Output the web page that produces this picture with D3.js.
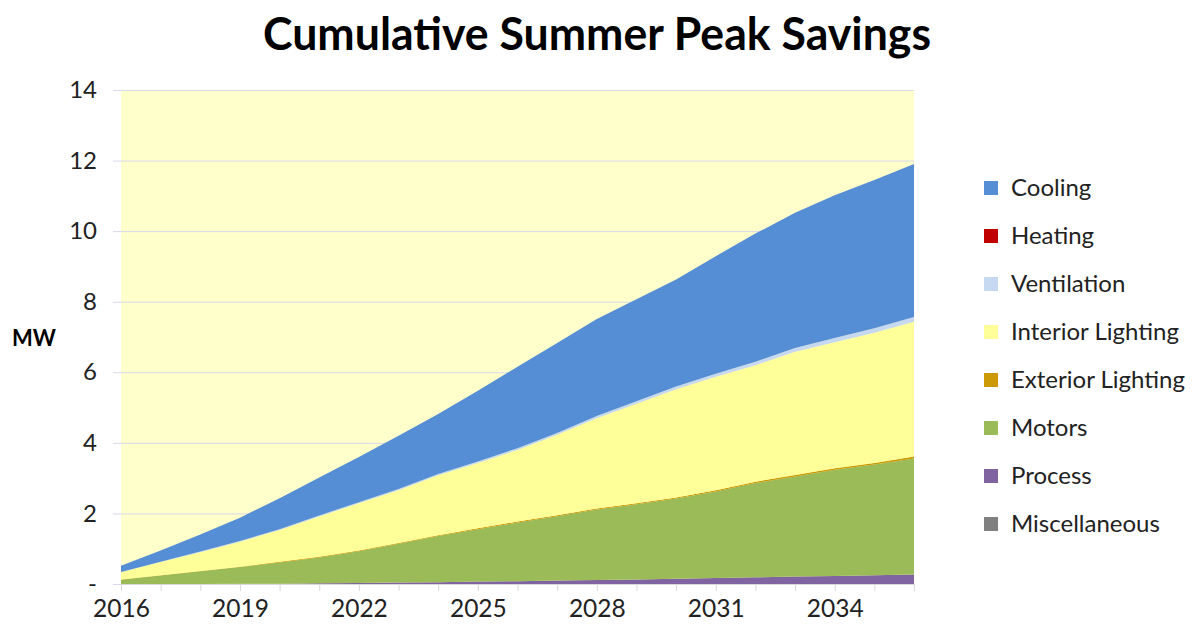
<!DOCTYPE html>
<html>
<head>
<meta charset="utf-8">
<script src="https://cdn.jsdelivr.net/npm/d3@7"></script>
<style>
  body { margin: 0; background: #fff; }
  text { font-family: Lato, "Open Sans", sans-serif; fill: #222; }
</style>
</head>
<body>
<svg id="chart"></svg>
<script>
const years = d3.range(2016, 2037);
const tickYears = [2016, 2019, 2022, 2025, 2028, 2031, 2034];
const yTicks = [0, 2, 4, 6, 8, 10, 12, 14];

// categories, bottom of the stack first
const categories = ['Miscellaneous', 'Process', 'Motors', 'Exterior Lighting',
  'Interior Lighting', 'Ventilation', 'Heating', 'Cooling'];
const legendOrder = ['Cooling', 'Heating', 'Ventilation', 'Interior Lighting',
  'Exterior Lighting', 'Motors', 'Process', 'Miscellaneous'];
const colors = ['#808080', '#8064a2', '#9bbb59', '#cc9a06',
  '#ffff99', '#c6d9f1', '#c00000', '#558ed5'];

// MW per year, 2016..2036
const miscellaneous = [0, 0, 0, 0, 0, 0, 0, 0, 0, 0, 0, 0, 0, 0, 0, 0, 0, 0, 0, 0, 0];
const processLoad = [0, 0, 0, 0.01, 0.01, 0.02, 0.03, 0.04, 0.05, 0.07, 0.08, 0.10, 0.11, 0.13, 0.15, 0.17, 0.19, 0.21, 0.23, 0.25, 0.27];
const motors = [0.12, 0.24, 0.36, 0.47, 0.60, 0.73, 0.90, 1.10, 1.31, 1.48, 1.66, 1.82, 2.00, 2.13, 2.27, 2.45, 2.67, 2.84, 3.01, 3.14, 3.29];
const exteriorLighting = [0.01, 0.01, 0.01, 0.01, 0.02, 0.02, 0.02, 0.02, 0.02, 0.03, 0.03, 0.03, 0.03, 0.03, 0.03, 0.04, 0.04, 0.04, 0.04, 0.04, 0.05];
const interiorLighting = [0.20, 0.37, 0.53, 0.71, 0.90, 1.14, 1.34, 1.50, 1.70, 1.85, 2.03, 2.28, 2.56, 2.82, 3.07, 3.21, 3.30, 3.49, 3.57, 3.69, 3.82];
const ventilation = [0.01, 0.01, 0.02, 0.02, 0.02, 0.03, 0.03, 0.03, 0.04, 0.04, 0.05, 0.05, 0.06, 0.07, 0.08, 0.09, 0.10, 0.11, 0.12, 0.13, 0.14];
const heating = [0, 0, 0, 0, 0, 0, 0, 0, 0, 0, 0, 0, 0, 0, 0, 0, 0, 0, 0, 0, 0];
const cooling = [0.18, 0.32, 0.48, 0.66, 0.88, 1.08, 1.28, 1.51, 1.70, 2.01, 2.31, 2.55, 2.75, 2.89, 3.03, 3.33, 3.63, 3.83, 4.05, 4.20, 4.33];

const seriesValues = [miscellaneous, processLoad, motors, exteriorLighting,
  interiorLighting, ventilation, heating, cooling];

class SavingsChart {

  constructor(_config, _data) {
    this.config = {
      parentElement: _config.parentElement,
      containerWidth: _config.containerWidth || 1196,
      containerHeight: _config.containerHeight || 634,
      plot: { left: 121, right: 914, top: 90, bottom: 584 }
    };
    this.data = _data;
    this.initVis();
  }

  initVis() {
    let vis = this;
    const p = vis.config.plot;

    vis.svg = d3.select(vis.config.parentElement)
        .attr('width', vis.config.containerWidth)
        .attr('height', vis.config.containerHeight);

    vis.xScale = d3.scalePoint()
        .domain(years)
        .range([p.left, p.right]);

    vis.yScale = d3.scaleLinear()
        .domain([0, 14])
        .range([p.bottom, p.top]);

    vis.colorScale = d3.scaleOrdinal()
        .domain(categories)
        .range(colors);

    vis.stack = d3.stack().keys(categories);

    vis.area = d3.area()
        .x(d => vis.xScale(d.data.year))
        .y0(d => vis.yScale(d[0]))
        .y1(d => vis.yScale(d[1]));

    vis.svg.append('text')
        .attr('x', 597)
        .attr('y', 50)
        .attr('text-anchor', 'middle')
        .attr('font-size', '46px')
        .attr('font-weight', 'bold')
        .attr('textLength', 668)
        .attr('lengthAdjust', 'spacingAndGlyphs')
        .style('fill', '#000')
        .text('Cumulative Summer Peak Savings');

    vis.svg.append('rect')
        .attr('x', p.left)
        .attr('y', p.top)
        .attr('width', p.right - p.left)
        .attr('height', p.bottom - p.top)
        .attr('fill', '#ffffcc');

    vis.yAxisG = vis.svg.append('g')
        .attr('class', 'axis y-axis')
        .attr('transform', `translate(${p.left},0)`);

    vis.marks = vis.svg.append('g');

    vis.xAxisG = vis.svg.append('g')
        .attr('class', 'axis x-axis')
        .attr('transform', `translate(0,${p.bottom})`);

    vis.svg.append('text')
        .attr('x', 34)
        .attr('y', 346)
        .attr('text-anchor', 'middle')
        .attr('font-size', '22px')
        .attr('font-weight', 'bold')
        .style('fill', '#000')
        .text('MW');

    vis.legend = vis.svg.append('g')
        .attr('transform', 'translate(984,188)');

    vis.renderVis();
  }

  renderVis() {
    let vis = this;
    const p = vis.config.plot;

    vis.marks.selectAll('.layer')
        .data(vis.stack(vis.data))
        .join('path')
        .attr('class', 'layer')
        .attr('fill', d => vis.colorScale(d.key))
        .attr('d', vis.area);

    const yAxis = d3.axisLeft(vis.yScale)
        .tickValues(yTicks)
        .tickPadding(16)
        .tickFormat(d => d === 0 ? '-' : d);

    vis.yAxisG.call(yAxis);
    vis.yAxisG.select('.domain').remove();
    // gridlines run across the plot and stick out a little as ticks
    vis.yAxisG.selectAll('.tick line')
        .attr('x1', p.right - p.left)
        .attr('x2', -8)
        .attr('stroke', '#d8d8ec');
    vis.yAxisG.selectAll('.tick text')
        .attr('x', -24)
        .attr('font-size', '24px')
        .style('fill', '#222');

    const xAxis = d3.axisBottom(vis.xScale)
        .tickSize(7)
        .tickPadding(9)
        .tickFormat(d => tickYears.includes(d) ? d : '');

    vis.xAxisG.call(xAxis);
    vis.xAxisG.select('.domain')
        .attr('stroke', '#d9d9d9');
    vis.xAxisG.selectAll('.tick line')
        .attr('stroke', '#d9d9d9');
    vis.xAxisG.selectAll('.tick text')
        .attr('font-size', '24.5px')
        .style('fill', '#222');

    const rows = vis.legend.selectAll('.legend-row')
        .data(legendOrder)
        .join('g')
        .attr('class', 'legend-row')
        .attr('transform', (d, i) => `translate(0,${i * 48})`);

    rows.append('rect')
        .attr('x', 0)
        .attr('y', -7)
        .attr('width', 14)
        .attr('height', 14)
        .attr('fill', d => vis.colorScale(d));

    rows.append('text')
        .attr('x', 27)
        .attr('dy', '0.35em')
        .attr('font-size', '24px')
        .style('fill', '#222')
        .text(d => d);
  }
}

const tableData = years.map((year, i) => {
  const row = { year: year };
  categories.forEach((c, k) => { row[c] = seriesValues[k][i]; });
  return row;
});

new SavingsChart({ parentElement: '#chart' }, tableData);
</script>
</body>
</html>
